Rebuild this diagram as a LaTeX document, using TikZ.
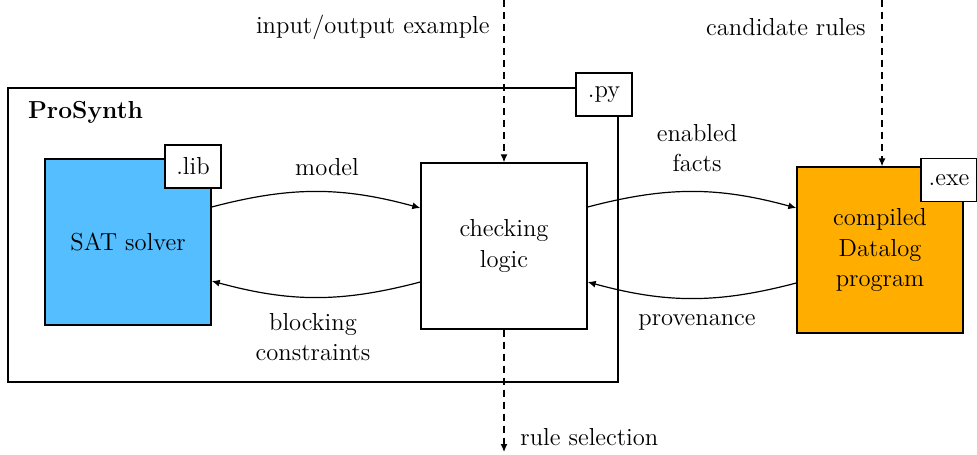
\documentclass[tikz,border=0pt]{standalone}
\usetikzlibrary{arrows.meta}
\definecolor{satblue}{RGB}{85,190,255}
\definecolor{dlorange}{RGB}{255,174,0}
\tikzset{
 comp/.style={draw,line width=.7pt,minimum width=83pt,minimum height=83pt,align=center,inner sep=2pt},
 tag/.style={draw,fill=white,line width=.7pt,minimum width=28pt,minimum height=21.5pt,inner sep=0pt},
 flow/.style={-{Latex[length=4pt,width=3.5pt]},line width=.6pt},
 io/.style={flow,dash pattern=on 3.5pt off 2.5pt},
}
\begin{document}
\begin{tikzpicture}[x=.5pt,y=-.5pt,font=\fontsize{12.3}{15.3}\selectfont]
 \useasboundingbox (0,0) rectangle (977,454);
 % ProSynth frame
 \node[draw,line width=.7pt,minimum width=305pt,minimum height=147pt] (prosynth) at (313,235) {};
 \node[anchor=west,font=\fontsize{12.3}{15.3}\selectfont\bfseries] (title) at (21,112) {ProSynth};
 \node[tag] (py) at (604,94.5) {.py};
 % components
 \node[comp,fill=satblue] (sat) at (128,242) {SAT solver};
 \node[tag] (lib) at (193,166.5) {.lib};
 \node[comp] (check) at (504,246) {checking\\logic};
 \node[comp,fill=dlorange] (datalog) at (880,250) {compiled\\Datalog\\program};
 \node[tag] (exe) at (949,180) {.exe};
 % flows
 \draw[flow] ([yshift=17.5pt]sat.east) to[bend left=15] ([yshift=19pt]check.west);
 \draw[flow] ([yshift=-18pt]check.west) to[bend left=15] ([yshift=-19.5pt]sat.east);
 \draw[flow] ([yshift=19.5pt]check.east) to[bend left=15] ([yshift=21pt]datalog.west);
 \draw[flow] ([yshift=-16.5pt]datalog.west) to[bend left=15] ([yshift=-18pt]check.east);
 \node (model) at (327,167) {model};
 \node[align=center] (block) at (313,337) {blocking\\constraints};
 \node[align=center] (facts) at (697,148) {enabled\\facts};
 \node (prov) at (697,322) {provenance};
 % inputs and outputs
 \coordinate (ioin) at (504,0);
 \coordinate (candin) at (882,0);
 \coordinate (selout) at (504,452);
 \draw[io] (ioin) -- (check.north);
 \draw[io] (candin) -- (candin |- datalog.north);
 \draw[io] (check.south) -- (selout);
 \node[anchor=east,inner sep=0pt] (iolabel) at (490,27) {input/output example};
 \node[anchor=east,inner sep=0pt] (candlabel) at (866,27) {candidate rules};
 \node[anchor=west,inner sep=0pt] (sellabel) at (520,437) {rule selection};
\end{tikzpicture}
\end{document}
